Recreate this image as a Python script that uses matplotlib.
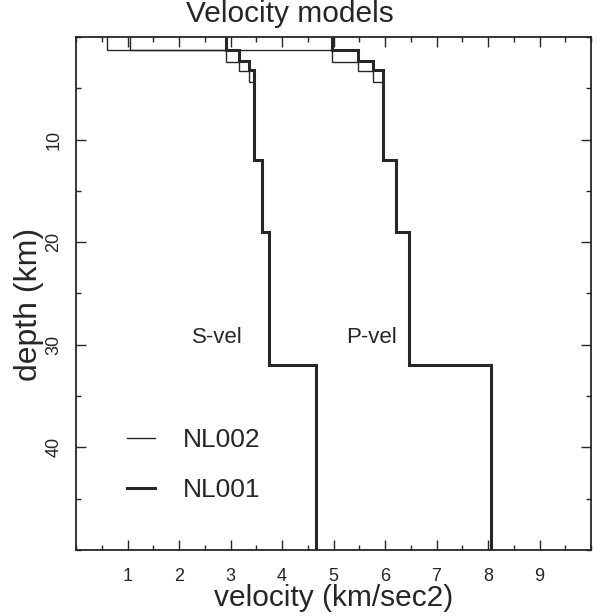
"""Velocity models NL001 / NL002: S and P step profiles against depth."""

import matplotlib

matplotlib.use("Agg")
import matplotlib.pyplot as plt
from matplotlib.lines import Line2D
from matplotlib.ticker import MultipleLocator

plt.rcParams["font.family"] = ["Liberation Sans", "DejaVu Sans"]

# layer boundaries (km), top to bottom
nl001_edges = [0, 1.3, 2.3, 3.2, 12, 19, 32, 50]
nl002_edges = [0, 1.3, 2.4, 3.3, 4.4, 12, 19, 32, 50]

# layer velocities (km/s)
nl001_vs = [2.92, 3.17, 3.36, 3.45, 3.62, 3.75, 4.66]
nl001_vp = [4.97, 5.47, 5.76, 5.97, 6.21, 6.46, 8.05]
nl002_vs = [0.60, 2.92, 3.17, 3.36, 3.45, 3.62, 3.75, 4.66]
nl002_vp = [1.04, 4.97, 5.47, 5.76, 5.97, 6.21, 6.46, 8.05]

ink = "#262626"

fig = plt.figure(figsize=(6.0, 6.16), dpi=100)
ax = fig.add_axes([0.1267, 0.1071, 0.8583, 0.8329])

# thin model first, thick one on top
for vals in (nl002_vs, nl002_vp):
    ax.stairs(vals, nl002_edges, orientation="horizontal", baseline=None,
              color=ink, linewidth=1.0)
for vals in (nl001_vs, nl001_vp):
    ax.stairs(vals, nl001_edges, orientation="horizontal", baseline=None,
              color=ink, linewidth=2.2)

ax.set_xlim(0, 10)
ax.set_ylim(50, 0)
ax.set_xticks(range(1, 10))
ax.set_yticks([10, 20, 30, 40])
ax.xaxis.set_minor_locator(MultipleLocator(0.5))
ax.yaxis.set_minor_locator(MultipleLocator(5))
ax.tick_params(which="both", direction="in", top=True, right=True,
               color=ink, width=1.0)
ax.tick_params(which="major", length=7.5, labelsize=13, labelcolor=ink)
ax.tick_params(which="minor", length=3.8)
ax.tick_params(axis="x", pad=13)
ax.tick_params(axis="y", pad=10)
for lab in ax.get_yticklabels():
    lab.set_rotation(90)
    lab.set_va("center")
for sp in ax.spines.values():
    sp.set_linewidth(1.3)
    sp.set_color(ink)

ax.set_xlabel("velocity (km/sec2)", fontsize=21.5, color=ink, labelpad=-1)
ax.set_ylabel("depth (km)", fontsize=23, color=ink, labelpad=1)
ax.yaxis.label.set_y(0.478)
fig.text(0.483, 0.978, "Velocity models", fontsize=21.5, color=ink,
         ha="center", va="center")

ax.text(3.23, 29.3, "S-vel", fontsize=16, color=ink, ha="right", va="center")
ax.text(6.23, 29.3, "P-vel", fontsize=16, color=ink, ha="right", va="center")

handles = [Line2D([], [], color=ink, linewidth=1.0),
           Line2D([], [], color=ink, linewidth=2.2)]
ax.legend(handles, ["NL002", "NL001"], loc="upper left",
          bbox_to_anchor=(0.099, 0.238), frameon=False, fontsize=19,
          handlelength=1.06, handletextpad=1.06, labelspacing=0.99,
          borderpad=0, borderaxespad=0, labelcolor=ink)

fig.savefig("out.png", dpi=100)
